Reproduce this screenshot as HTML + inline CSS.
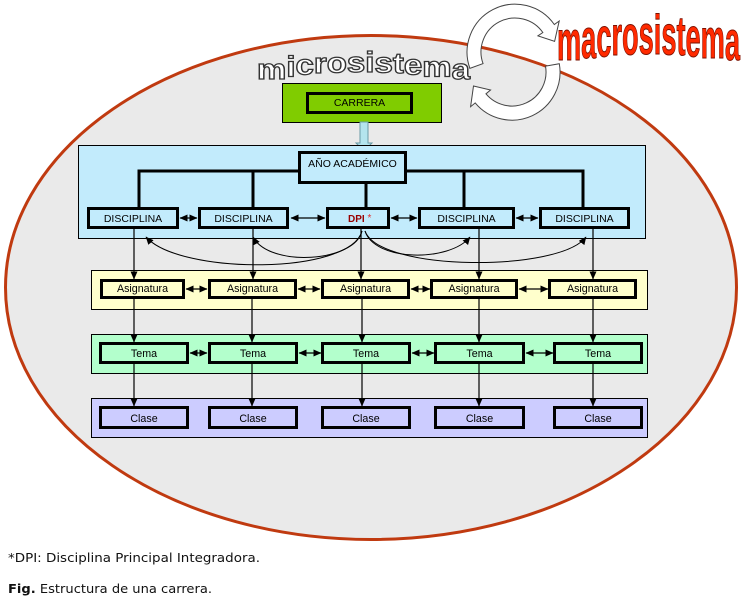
<!DOCTYPE html>
<html><head><meta charset="utf-8">
<style>html,body{margin:0;padding:0;background:#fff;width:742px;height:598px;overflow:hidden}svg{display:block}</style>
</head><body>
<svg width="742" height="598" viewBox="0 0 742 598" xmlns="http://www.w3.org/2000/svg" font-family="'Liberation Sans', Arial, sans-serif">
<defs>
<marker id="ah" markerWidth="8" markerHeight="8" refX="7.5" refY="3.5" orient="auto-start-reverse" markerUnits="userSpaceOnUse"><path d="M0,0 L8,3.5 L0,7 z" fill="#000"/></marker>
</defs>

<!-- ellipse -->
<ellipse cx="371" cy="287.5" rx="365.5" ry="252" fill="#eaeaea" stroke="#c03a10" stroke-width="3"/>

<!-- circular arrows -->
<path d="M469.9,68.4 A48,48 0 0 1 554.3,24.5 L559.2,21.0 L554.6,41.4 L537.9,35.9 L542.85,32.5 A34,34 0 0 0 483.05,63.63 Z" fill="#fff" stroke="#444" stroke-width="1"/>
<path d="M559.3,63.7 A48,48 0 0 1 475.2,102.9 L470.6,106.7 L473.5,86.0 L490.55,90.0 L485.95,93.86 A34,34 0 0 0 545.5,66.1 Z" fill="#fff" stroke="#444" stroke-width="1"/>

<!-- microsistema -->
<text x="257" y="79 76.6 74.7 73.2 72.3 71.8 71.8 72.3 73.2 74.7 76.6 79" font-size="29" font-weight="bold" fill="#fff" stroke="#333" stroke-width="1.3" textLength="213" lengthAdjust="spacingAndGlyphs">microsistema</text>

<!-- macrosistema -->
<text x="557" y="60 58 56.4 55.2 54.4 54.05 54.05 54.4 55.2 56.4 58 60" font-family="'Liberation Sans Narrow', 'Liberation Sans', sans-serif" font-size="56" font-weight="bold" fill="#ff2a00" stroke="#7a1000" stroke-width="1" textLength="183" lengthAdjust="spacingAndGlyphs">macrosistema</text>

<!-- CARRERA -->
<rect x="282.5" y="83.5" width="159" height="39" fill="#80cc00" stroke="#000" stroke-width="1"/>
<rect x="307.5" y="93.5" width="104" height="19" fill="#80cc00" stroke="#000" stroke-width="3"/>
<text x="359.5" y="106" font-size="10.5" text-anchor="middle">CARRERA</text>

<!-- block arrow -->
<polygon points="360,122 368,122 368,143 372,143 364,151 356,143 360,143" fill="#b4e4ee" stroke="#6a9aa6" stroke-width="1"/>

<!-- containers -->
<rect x="78.5" y="145.5" width="567" height="93" fill="#c2ebfc" stroke="#000" stroke-width="1"/>
<rect x="91.5" y="270.5" width="556" height="39" fill="#ffffcc" stroke="#000" stroke-width="1"/>
<rect x="91.5" y="334.5" width="556" height="39" fill="#b3ffcc" stroke="#000" stroke-width="1"/>
<rect x="91.5" y="398.5" width="556" height="39" fill="#ccccff" stroke="#000" stroke-width="1"/>

<!-- tree lines -->
<g stroke="#000" stroke-width="3" fill="none">
<path d="M139,207 V171 H298"/>
<path d="M253,171 V207"/>
<path d="M407,171 H583 V207"/>
<path d="M464,171 V207"/>
<path d="M366,184 V207"/>
</g>

<!-- AÑO ACADÉMICO -->
<rect x="299.5" y="152.5" width="106" height="30" fill="#c2ebfc" stroke="#000" stroke-width="3"/>
<text x="352.5" y="167" font-size="10.5" text-anchor="middle">AÑO ACADÉMICO</text>

<!-- curves -->
<g stroke="#000" stroke-width="1" fill="none" marker-end="url(#ah)">
<path d="M362,231 C350,275 180,275 146,237"/>
<path d="M362,231 C355,262 270,268 253,237"/>
<path d="M365,231 C375,262 450,262 470,237"/>
<path d="M365,231 C380,272 560,272 586,237"/>
</g>

<!-- vertical arrows -->
<g stroke="#000" stroke-width="1.2" marker-end="url(#ah)">
<line x1="134" y1="229" x2="134" y2="279"/>
<line x1="253" y1="229" x2="253" y2="279"/>
<line x1="361" y1="229" x2="361" y2="279"/>
<line x1="479" y1="229" x2="479" y2="279"/>
<line x1="593" y1="229" x2="593" y2="279"/>
<line x1="134" y1="299" x2="134" y2="342"/>
<line x1="252" y1="299" x2="252" y2="342"/>
<line x1="362" y1="299" x2="362" y2="342"/>
<line x1="479" y1="299" x2="479" y2="342"/>
<line x1="593" y1="299" x2="593" y2="342"/>
<line x1="134" y1="364" x2="134" y2="406"/>
<line x1="252" y1="364" x2="252" y2="406"/>
<line x1="362" y1="364" x2="362" y2="406"/>
<line x1="479" y1="364" x2="479" y2="406"/>
<line x1="593" y1="364" x2="593" y2="406"/>
</g>

<!-- double arrows -->
<g stroke="#000" stroke-width="1.2" marker-start="url(#ah)" marker-end="url(#ah)">
<line x1="180" y1="218" x2="197" y2="218"/>
<line x1="291" y1="218" x2="325" y2="218"/>
<line x1="391" y1="218" x2="417" y2="218"/>
<line x1="516" y1="218" x2="538" y2="218"/>
<line x1="186" y1="289" x2="207" y2="289"/>
<line x1="298" y1="289" x2="320" y2="289"/>
<line x1="411" y1="289" x2="430" y2="289"/>
<line x1="519" y1="289" x2="548" y2="289"/>
<line x1="190" y1="353" x2="207" y2="353"/>
<line x1="299" y1="353" x2="321" y2="353"/>
<line x1="412" y1="353" x2="434" y2="353"/>
<line x1="526" y1="353" x2="553" y2="353"/>
</g>

<!-- disciplina boxes -->
<g fill="#c2ebfc" stroke="#000" stroke-width="3">
<rect x="88.5" y="208.5" width="89" height="19"/>
<rect x="199.5" y="208.5" width="88" height="19"/>
<rect x="327.5" y="208.5" width="61" height="19"/>
<rect x="419.5" y="208.5" width="94" height="19"/>
<rect x="540.5" y="208.5" width="88" height="19"/>
</g>
<g font-size="10.5" text-anchor="middle">
<text x="133" y="222">DISCIPLINA</text>
<text x="243.5" y="222">DISCIPLINA</text>
<text x="466.5" y="222">DISCIPLINA</text>
<text x="584.5" y="222">DISCIPLINA</text>
</g>
<text x="348" y="222" font-size="10" font-weight="bold" fill="#990000">DPI <tspan fill="#e03030" font-weight="normal" dy="-1">*</tspan></text>

<!-- asignatura boxes -->
<g fill="#ffffcc" stroke="#000" stroke-width="3">
<rect x="101.5" y="280.5" width="82" height="17"/>
<rect x="209.5" y="280.5" width="86" height="17"/>
<rect x="322.5" y="280.5" width="86" height="17"/>
<rect x="431.5" y="280.5" width="85" height="17"/>
<rect x="549.5" y="280.5" width="86" height="17"/>
</g>
<g font-size="10.7" text-anchor="middle">
<text x="142.5" y="292">Asignatura</text>
<text x="252.5" y="292">Asignatura</text>
<text x="365.5" y="292">Asignatura</text>
<text x="474" y="292">Asignatura</text>
<text x="592.5" y="292">Asignatura</text>
</g>

<!-- tema boxes -->
<g fill="#b3ffcc" stroke="#000" stroke-width="3">
<rect x="100.5" y="343.5" width="87" height="19"/>
<rect x="209.5" y="343.5" width="87" height="19"/>
<rect x="322.5" y="343.5" width="87" height="19"/>
<rect x="435.5" y="343.5" width="88" height="19"/>
<rect x="554.5" y="343.5" width="87" height="19"/>
</g>
<g font-size="10.7" text-anchor="middle">
<text x="144" y="357">Tema</text>
<text x="253" y="357">Tema</text>
<text x="366" y="357">Tema</text>
<text x="479.5" y="357">Tema</text>
<text x="598" y="357">Tema</text>
</g>

<!-- clase boxes -->
<g fill="#ccccff" stroke="#000" stroke-width="3">
<rect x="100.5" y="407.5" width="87" height="20"/>
<rect x="209.5" y="407.5" width="87" height="20"/>
<rect x="322.5" y="407.5" width="87" height="20"/>
<rect x="435.5" y="407.5" width="88" height="20"/>
<rect x="554.5" y="407.5" width="87" height="20"/>
</g>
<g font-size="10.7" text-anchor="middle">
<text x="144" y="422">Clase</text>
<text x="253" y="422">Clase</text>
<text x="366" y="422">Clase</text>
<text x="479.5" y="422">Clase</text>
<text x="598" y="422">Clase</text>
</g>

<!-- captions -->
<text x="8" y="562" font-family="'DejaVu Sans', Verdana, sans-serif" font-size="12.5" fill="#111" textLength="252" lengthAdjust="spacingAndGlyphs">*DPI:  Disciplina Principal Integradora.</text>
<text x="8" y="593" font-family="'DejaVu Sans', Verdana, sans-serif" font-size="12.5" fill="#111" textLength="204" lengthAdjust="spacingAndGlyphs"><tspan font-weight="bold">Fig.</tspan> Estructura de una carrera.</text>
</svg>
</body></html>
